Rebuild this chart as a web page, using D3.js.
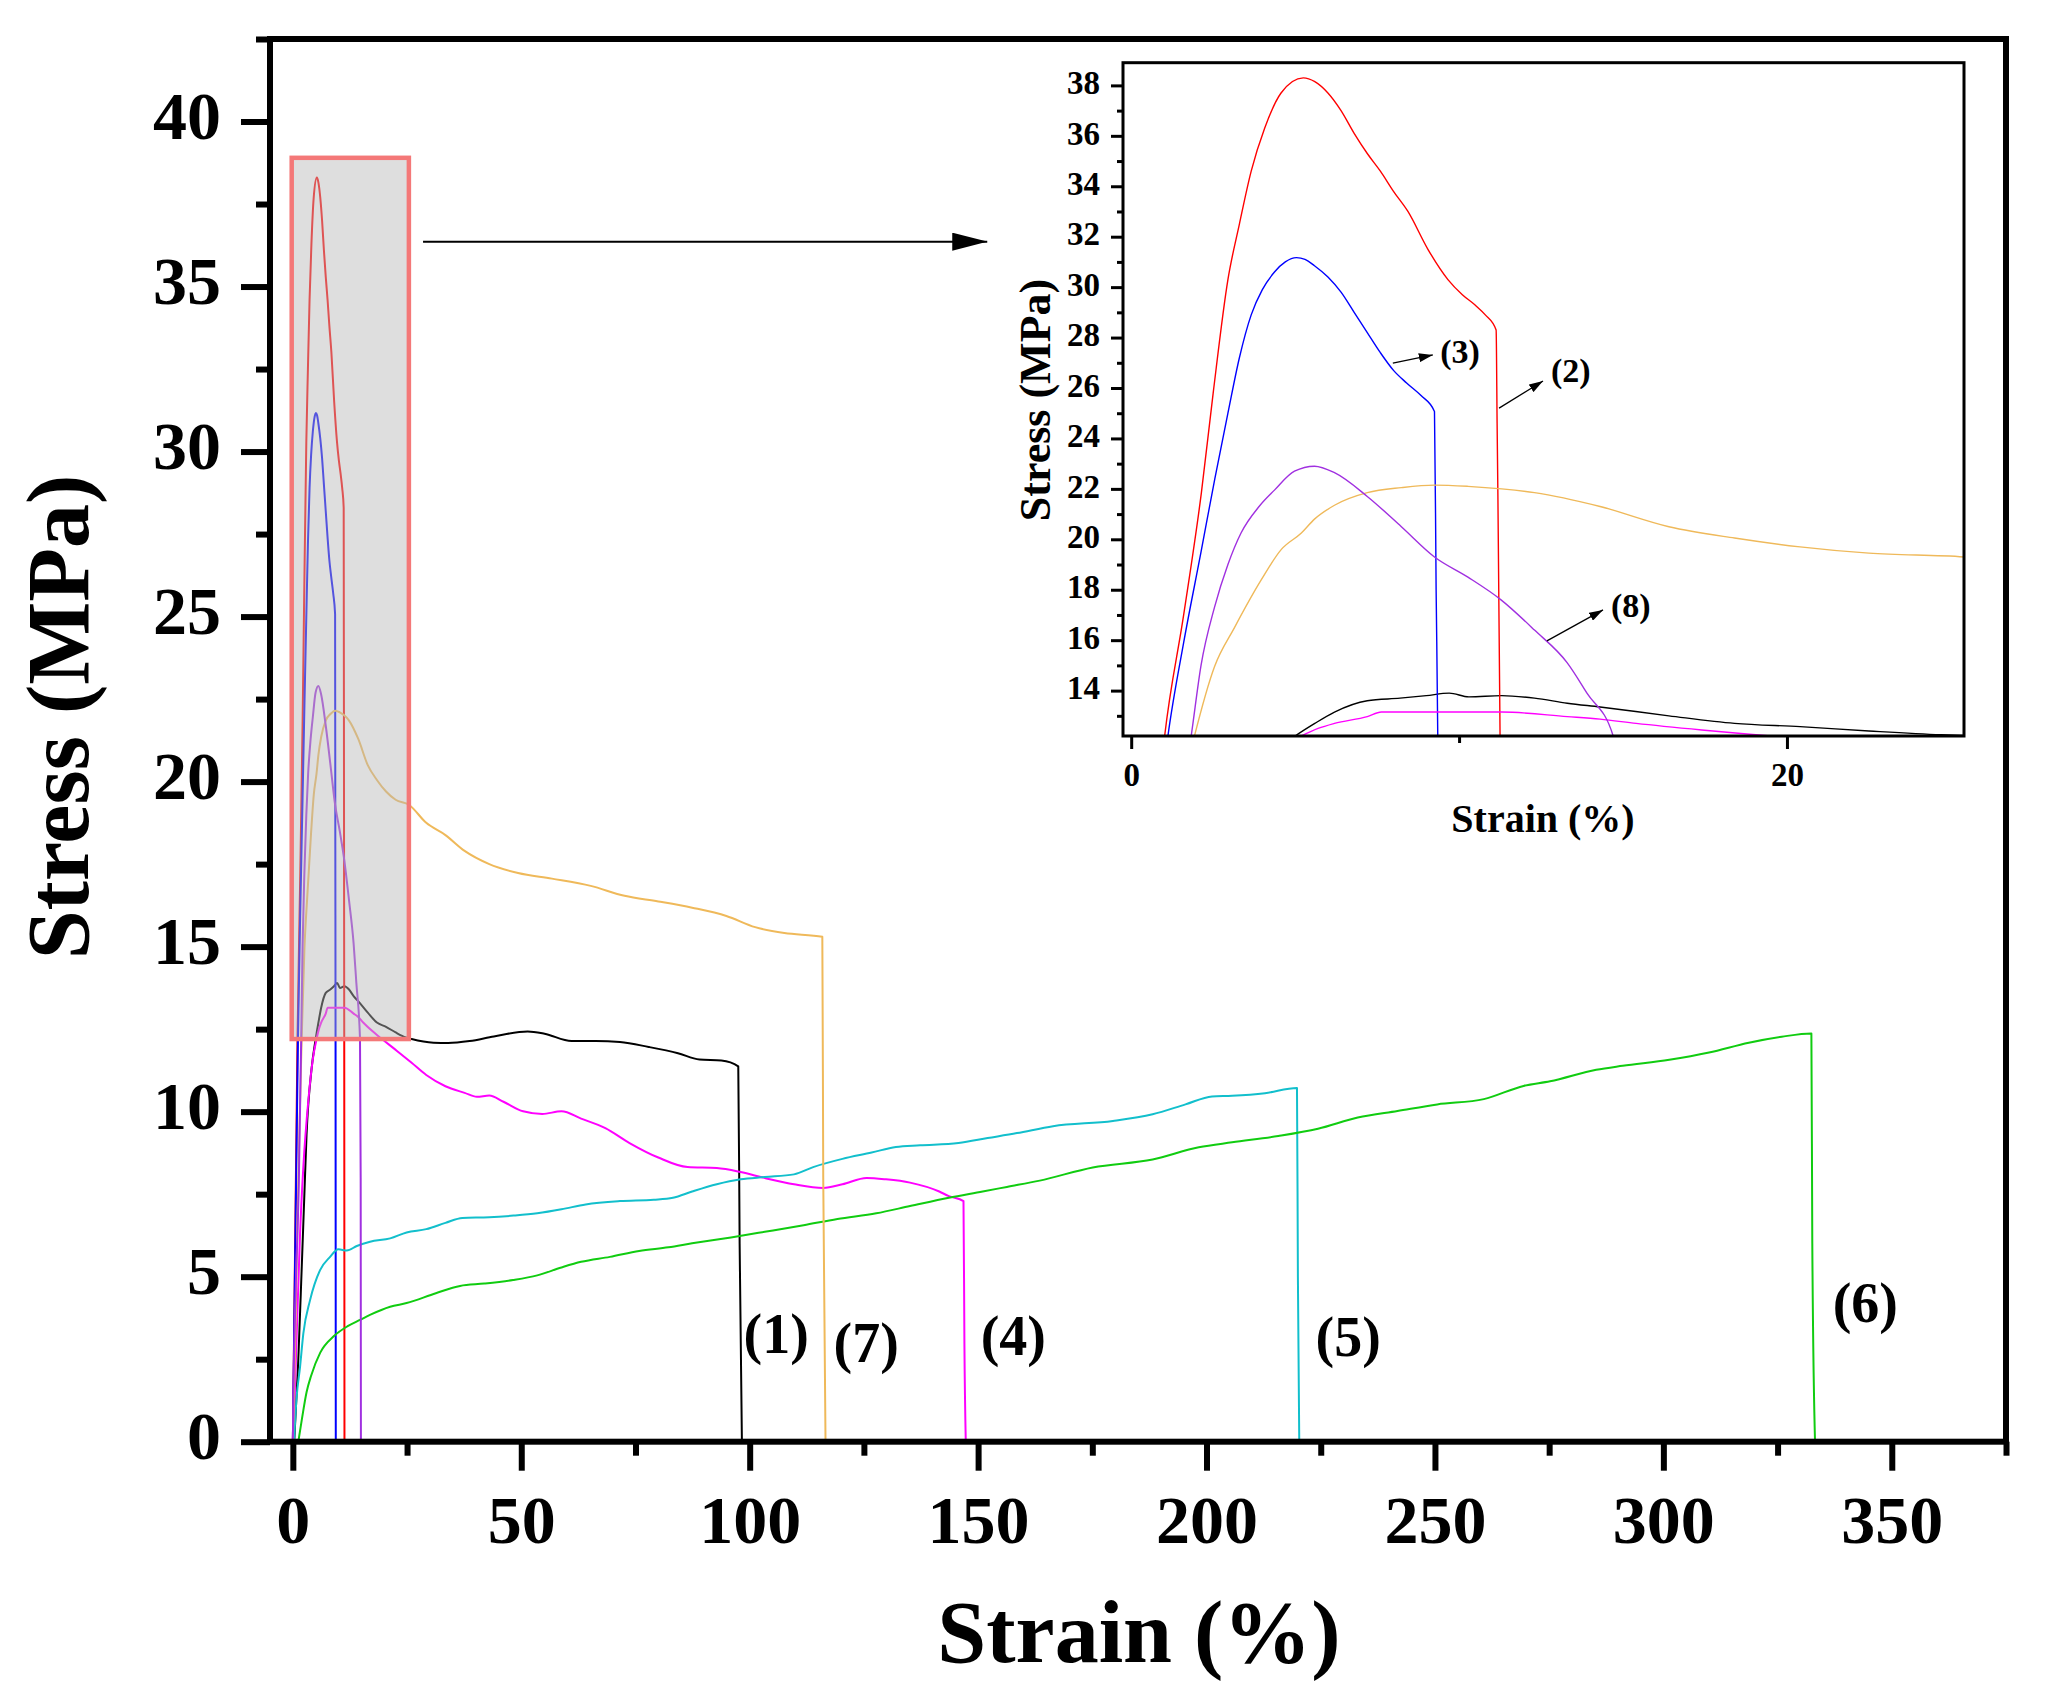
<!DOCTYPE html>
<html>
<head>
<meta charset="utf-8">
<script src="https://cdn.jsdelivr.net/npm/d3@7"></script>
<style>
  body { margin: 0; background: #fff; }
  text { font-family: "Liberation Serif", "Times New Roman", serif; font-weight: bold; fill: #000; }
</style>
</head>
<body>
<script>
// stress-strain curves, [strain %, stress MPa]
const curve1 = [[0.3,0],[1.2,2.5],[1.95,5.3],[2.5,7.4],[3.0,9.3],[4.1,11.3],[5.0,12.2],[5.6,12.7],[6.2,13.15],[7.2,13.6],[8.2,13.7],[9.0,13.8],[9.7,13.9],[10.3,13.75],[11.3,13.8],[12.3,13.7],[13.3,13.5],[14.3,13.35],[16.4,13.0],[18.4,12.7],[20.4,12.57],[22.5,12.4],[24.7,12.25],[26,12.2],[30.8,12.09],[34,12.08],[38.7,12.14],[44,12.28],[51.4,12.43],[55.1,12.36],[61,12.14],[66.3,12.14],[71.6,12.11],[77.9,11.96],[84.3,11.77],[89,11.58],[93.8,11.55],[97.5,11.37],[97.8,6],[98.3,0]];
const curve2 = [[0,0],[0.4,4.8],[0.8,9.5],[1.02,12.2],[1.6,17],[2.14,21.84],[2.5,25.8],[2.95,30.3],[3.3,32.5],[3.66,34.6],[4.07,36.3],[4.57,37.7],[5.25,38.3],[5.6,38.15],[6.0,37.7],[6.4,37.0],[6.8,36.1],[7.2,35.3],[7.6,34.6],[8.0,33.8],[8.44,33.0],[9.05,31.5],[9.66,30.3],[10.1,29.7],[10.48,29.3],[10.8,28.9],[11.13,28.3],[11.16,24.6],[11.25,12.2],[11.3,0]];
const curve3 = [[0,0],[0.4,4.5],[0.8,8.8],[1.12,12.2],[1.6,15.9],[2.13,19.5],[2.55,22.4],[2.95,25.0],[3.3,27.2],[3.66,28.9],[4.0,29.9],[4.37,30.6],[4.7,31.0],[5.04,31.17],[5.3,31.1],[5.59,30.85],[6.0,30.4],[6.4,29.8],[6.8,29.0],[7.2,28.2],[7.6,27.4],[8.0,26.7],[8.4,26.2],[8.84,25.7],[9.25,25.07],[9.3,18],[9.35,12.2],[9.4,0]];
const curve4 = [[0,0],[0.26,0.8],[0.85,3.28],[1.58,6.31],[2.3,8.33],[3.4,10.35],[4.35,11.57],[5.19,12.2],[5.7,12.5],[6.2,12.7],[7.2,12.97],[7.63,13.15],[9.25,13.15],[11.3,13.15],[13.3,12.97],[14.3,12.87],[15.4,12.7],[17.4,12.44],[18.6,12.3],[19.5,12.2],[22.8,11.84],[26.0,11.48],[29.2,11.11],[33.4,10.77],[37.6,10.57],[40.3,10.45],[43.0,10.49],[46.1,10.3],[50.4,10.01],[54.6,9.93],[58.8,10.01],[63.1,9.79],[68.4,9.5],[73.7,9.05],[80.0,8.61],[86.4,8.32],[92.8,8.29],[98.0,8.17],[103.3,7.99],[109.7,7.8],[116.1,7.69],[120.3,7.8],[125.6,7.99],[129.8,7.95],[135.1,7.85],[141.5,7.58],[143.6,7.44],[146.8,7.29],[147.0,3],[147.3,0]];
const curve5 = [[0.26,0],[0.8,1.3],[1.58,2.27],[2.3,3.28],[3.77,4.29],[5.96,5.2],[8.15,5.6],[9.97,5.83],[11.8,5.79],[14.0,5.93],[16.9,6.06],[21.3,6.16],[24.9,6.34],[29.2,6.44],[33.4,6.63],[37.1,6.78],[43.0,6.8],[48.3,6.85],[53.5,6.92],[58.8,7.04],[64.1,7.19],[71.6,7.29],[79.0,7.33],[83.2,7.39],[87.4,7.58],[92.8,7.8],[98.0,7.95],[103.3,8.02],[109.7,8.1],[113.9,8.32],[120.3,8.57],[126.7,8.76],[132.0,8.93],[137.3,8.98],[145.7,9.05],[152.1,9.2],[158.5,9.35],[166.4,9.56],[179.5,9.72],[188.2,9.92],[195.4,10.22],[201.2,10.46],[205.6,10.48],[212.8,10.56],[219.8,10.72],[220.0,5],[220.3,0]];
const curve6 = [[1.2,0],[2,0.7],[3,1.5],[4,2.0],[6,2.7],[9,3.2],[12,3.5],[14.7,3.69],[17,3.85],[21.3,4.09],[24.9,4.2],[31.3,4.5],[36.6,4.72],[41.9,4.79],[48.2,4.9],[53.5,5.04],[58.8,5.28],[63.1,5.45],[69.4,5.6],[75.8,5.78],[82.2,5.89],[87.4,6.01],[95.9,6.19],[103.3,6.36],[111.8,6.56],[119.2,6.75],[127.7,6.92],[135.1,7.14],[143.6,7.39],[151.0,7.58],[156.3,7.72],[163.5,7.91],[175.1,8.31],[188.2,8.55],[198.3,8.92],[205.6,9.07],[215.7,9.26],[224.4,9.48],[233.1,9.82],[241.8,10.02],[250.5,10.22],[260.7,10.38],[269.4,10.78],[275.2,10.92],[285.3,11.27],[291.1,11.39],[301.3,11.57],[310.0,11.79],[318.7,12.09],[325.9,12.27],[332.4,12.37],[332.6,6],[333.2,0]];
const curve7 = [[0,0],[0.5,3],[1,6.5],[1.5,9.8],[1.93,12.2],[2.54,14.95],[3.15,16.5],[3.97,18.4],[4.58,19.6],[5.19,20.25],[5.59,20.8],[6.2,21.35],[7.2,21.85],[8.24,22.05],[9.25,22.15],[10.27,22.1],[11.3,22.0],[12.3,21.85],[14.3,21.3],[16.4,20.5],[18.4,20.05],[20.4,19.7],[22.5,19.45],[25.4,19.3],[29.2,18.75],[33.4,18.38],[37.6,17.9],[43.0,17.5],[49.3,17.23],[56.7,17.06],[65.2,16.84],[72.6,16.54],[80.0,16.37],[87.4,16.18],[94.9,15.93],[101.2,15.59],[107.6,15.41],[115.9,15.3],[116.1,8],[116.6,0]];
const curve8 = [[0,0],[0.1,1.2],[0.6,4.5],[1.3,7.8],[1.83,12.2],[2.13,15.0],[2.54,17.3],[2.95,19.0],[3.35,20.25],[3.9,21.3],[4.37,21.95],[4.98,22.7],[5.59,22.9],[6.2,22.64],[7.2,21.7],[8.24,20.5],[9.25,19.3],[10.27,18.5],[11.28,17.6],[12.3,16.4],[13.3,15.1],[13.9,13.9],[14.7,12.2],[14.85,8],[14.9,0]];

const curves = [curve1, curve2, curve3, curve4, curve5, curve6, curve7, curve8];
const colors = ["#000000", "#ff0000", "#0000ff", "#ff00ff", "#12bfcc", "#10cc10", "#efb95a", "#a030e0"];

// main axes
const xMajor = [0, 50, 100, 150, 200, 250, 300, 350];
const xMinor = [25, 75, 125, 175, 225, 275, 325, 375];
const yMajor = [0, 5, 10, 15, 20, 25, 30, 35, 40];
const yMinor = [2.5, 7.5, 12.5, 17.5, 22.5, 27.5, 32.5, 37.5, 42.5];

// inset axes
const insetYMajor = [14, 16, 18, 20, 22, 24, 26, 28, 30, 32, 34, 36, 38];
const insetYMinor = [13, 15, 17, 19, 21, 23, 25, 27, 29, 31, 33, 35, 37];
const insetXMajor = [0, 20];
const insetXMinor = [10];

// curve labels: [text, strain, stress]
const mainLabels = [["(1)",105.8,2.69],["(7)",125.5,2.42],["(4)",157.7,2.63],["(5)",231.0,2.6],["(6)",344.2,3.63]];
const insetLabels = [["(3)",10.03,26.99],["(2)",13.41,26.24],["(8)",15.24,16.92]];
const insetArrows = [[[7.98,26.99],[9.2,27.31]],[[11.22,25.2],[12.56,26.28]],[[12.68,15.97],[14.39,17.2]]];

const W = 2046, H = 1691;
const svg = d3.select("body").append("svg").attr("width", W).attr("height", H);

const x = d3.scaleLinear().domain([-5, 375]).range([270, 2006]);
const y = d3.scaleLinear().domain([0, 42.5]).range([1441.7, 39]);

const ix = d3.scaleLinear().domain([-0.25, 25.4]).range([1123, 1964]);
const iy = d3.scaleLinear().domain([12.2, 38.9]).range([736, 62.7]);

const defs = svg.append("defs");
defs.append("clipPath").attr("id", "mainClip").append("rect")
  .attr("x", x(-5)).attr("y", y(42.5)).attr("width", x(375) - x(-5)).attr("height", y(0) - y(42.5));
defs.append("clipPath").attr("id", "insetClip").append("rect")
  .attr("x", ix(-0.25)).attr("y", iy(38.9)).attr("width", ix(25.4) - ix(-0.25)).attr("height", iy(12.2) - iy(38.9));
defs.append("marker").attr("id", "bigHead").attr("markerUnits", "userSpaceOnUse")
  .attr("viewBox", "0 0 35 18").attr("refX", 35).attr("refY", 9)
  .attr("markerWidth", 35).attr("markerHeight", 18).attr("orient", "auto")
  .append("path").attr("d", "M0,0 L35,9 L0,18 Z").attr("fill", "#000");
defs.append("marker").attr("id", "smallHead").attr("markerUnits", "userSpaceOnUse")
  .attr("viewBox", "0 0 14 9").attr("refX", 14).attr("refY", 4.5)
  .attr("markerWidth", 14).attr("markerHeight", 9).attr("orient", "auto")
  .append("path").attr("d", "M0,0 L14,4.5 L0,9 Z").attr("fill", "#000");

// ---- main curves
const line = d3.line().curve(d3.curveMonotoneX).x(d => x(d[0])).y(d => y(d[1]));
svg.append("g").attr("clip-path", "url(#mainClip)")
  .selectAll("path").data(curves).join("path")
  .attr("d", line).attr("fill", "none")
  .attr("stroke", (d, i) => colors[i]).attr("stroke-width", 2)
  .attr("stroke-linejoin", "round");

// zoom box over the first 25 %
svg.append("rect")
  .attr("x", x(ix.domain()[0])).attr("y", y(iy.domain()[1]))
  .attr("width", x(ix.domain()[1]) - x(ix.domain()[0]))
  .attr("height", y(iy.domain()[0]) - y(iy.domain()[1]))
  .attr("fill", "rgb(184,184,184)").attr("fill-opacity", 0.46)
  .attr("stroke", "#f47878").attr("stroke-width", 4.5);

// arrow to the inset
svg.append("line")
  .attr("x1", x(28.5)).attr("y1", y(36.36)).attr("x2", x(152)).attr("y2", y(36.36))
  .attr("stroke", "#000").attr("stroke-width", 2).attr("marker-end", "url(#bigHead)");

// main axes
function styleTicks(g, w) {
  g.select(".domain").remove();
  g.selectAll(".tick line").attr("stroke", "#000").attr("stroke-width", w);
}
const gxMaj = svg.append("g").attr("transform", `translate(0,${y(0)})`)
  .call(d3.axisBottom(x).tickValues(xMajor).tickSize(29).tickSizeOuter(0));
styleTicks(gxMaj, 6);
gxMaj.selectAll("text").attr("y", 101).attr("dy", null).attr("font-size", 68);
const gxMin = svg.append("g").attr("transform", `translate(0,${y(0)})`)
  .call(d3.axisBottom(x).tickValues(xMinor).tickSize(14).tickFormat(""));
styleTicks(gxMin, 6);

const gyMaj = svg.append("g").attr("transform", `translate(${x(-5)},0)`)
  .call(d3.axisLeft(y).tickValues(yMajor).tickSize(29).tickSizeOuter(0));
styleTicks(gyMaj, 6);
gyMaj.selectAll("text").attr("x", -49).attr("dy", "0.25em").attr("font-size", 68);
const gyMin = svg.append("g").attr("transform", `translate(${x(-5)},0)`)
  .call(d3.axisLeft(y).tickValues(yMinor).tickSize(14).tickFormat(""));
styleTicks(gyMin, 6);
svg.selectAll("g text").attr("font-family", null);

// frame
svg.append("rect")
  .attr("x", x(-5)).attr("y", y(42.5))
  .attr("width", x(375) - x(-5)).attr("height", y(0) - y(42.5))
  .attr("fill", "none").attr("stroke", "#000").attr("stroke-width", 6);

svg.append("text").attr("x", 1139).attr("y", 1662).attr("text-anchor", "middle")
  .attr("font-size", 88).text("Strain (%)");
svg.append("text").attr("transform", "translate(88,717) rotate(-90)").attr("text-anchor", "middle")
  .attr("font-size", 88).text("Stress (MPa)");

svg.append("g").selectAll("text").data(mainLabels).join("text")
  .attr("x", d => x(d[1])).attr("y", d => y(d[2]))
  .attr("text-anchor", "middle").attr("font-size", 56).text(d => d[0]);

// ---- inset
const inset = svg.append("g");
inset.append("rect")
  .attr("x", ix(-0.25)).attr("y", iy(38.9))
  .attr("width", ix(25.4) - ix(-0.25)).attr("height", iy(12.2) - iy(38.9))
  .attr("fill", "#fff");
const iline = d3.line().curve(d3.curveMonotoneX).x(d => ix(d[0])).y(d => iy(d[1]));
inset.append("g").attr("clip-path", "url(#insetClip)")
  .selectAll("path").data(curves).join("path")
  .attr("d", iline).attr("fill", "none")
  .attr("stroke", (d, i) => colors[i]).attr("stroke-width", 1.4)
  .attr("stroke-linejoin", "round");

const giyMaj = inset.append("g").attr("transform", `translate(${ix(-0.25)},0)`)
  .call(d3.axisLeft(iy).tickValues(insetYMajor).tickSize(12).tickSizeOuter(0));
styleTicks(giyMaj, 3);
giyMaj.selectAll("text").attr("x", -23).attr("dy", "0.25em").attr("font-size", 33).attr("font-family", null);
const giyMin = inset.append("g").attr("transform", `translate(${ix(-0.25)},0)`)
  .call(d3.axisLeft(iy).tickValues(insetYMinor).tickSize(6).tickFormat(""));
styleTicks(giyMin, 3);

const gixMaj = inset.append("g").attr("transform", `translate(0,${iy(12.2)})`)
  .call(d3.axisBottom(ix).tickValues(insetXMajor).tickSize(13).tickSizeOuter(0));
styleTicks(gixMaj, 3);
gixMaj.selectAll("text").attr("y", 50).attr("dy", null).attr("font-size", 33).attr("font-family", null);
const gixMin = inset.append("g").attr("transform", `translate(0,${iy(12.2)})`)
  .call(d3.axisBottom(ix).tickValues(insetXMinor).tickSize(7).tickFormat(""));
styleTicks(gixMin, 3);

inset.append("rect")
  .attr("x", ix(-0.25)).attr("y", iy(38.9))
  .attr("width", ix(25.4) - ix(-0.25)).attr("height", iy(12.2) - iy(38.9))
  .attr("fill", "none").attr("stroke", "#000").attr("stroke-width", 3);

inset.append("text").attr("x", 1543).attr("y", 832).attr("text-anchor", "middle")
  .attr("font-size", 40).text("Strain (%)");
inset.append("text").attr("transform", "translate(1050,400) rotate(-90)").attr("text-anchor", "middle")
  .attr("font-size", 44).text("Stress (MPa)");

inset.append("g").selectAll("text").data(insetLabels).join("text")
  .attr("x", d => ix(d[1])).attr("y", d => iy(d[2]))
  .attr("text-anchor", "middle").attr("font-size", 34).text(d => d[0]);
inset.append("g").selectAll("line").data(insetArrows).join("line")
  .attr("x1", d => ix(d[0][0])).attr("y1", d => iy(d[0][1]))
  .attr("x2", d => ix(d[1][0])).attr("y2", d => iy(d[1][1]))
  .attr("stroke", "#000").attr("stroke-width", 1.3).attr("marker-end", "url(#smallHead)");
</script>
</body>
</html>
